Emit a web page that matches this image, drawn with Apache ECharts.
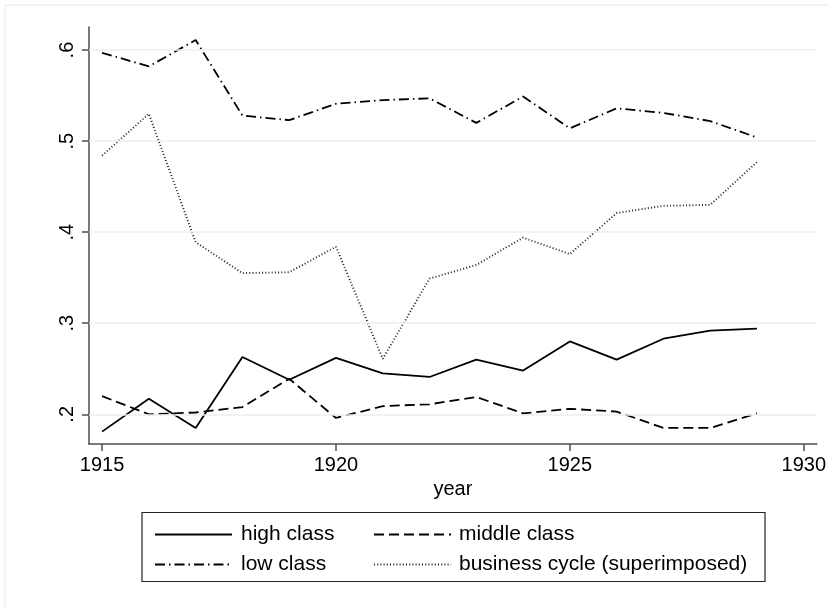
<!DOCTYPE html>
<html>
<head>
<meta charset="utf-8">
<script src="https://cdn.jsdelivr.net/npm/echarts@6/dist/echarts.min.js"></script>
<style>
html,body{margin:0;padding:0;background:#fff;}
#chart{width:829px;height:608px;}
</style>
</head>
<body>
<div id="chart"></div>
<script>
const years = [1915,1916,1917,1918,1919,1920,1921,1922,1923,1924,1925,1926,1927,1928,1929];
const highClass   = [0.181,0.217,0.185,0.263,0.238,0.262,0.245,0.241,0.260,0.248,0.280,0.260,0.283,0.292,0.294];
const middleClass = [0.220,0.200,0.202,0.208,0.239,0.196,0.209,0.211,0.219,0.201,0.206,0.203,0.185,0.185,0.201];
const lowClass    = [0.597,0.582,0.611,0.528,0.523,0.541,0.545,0.547,0.520,0.549,0.514,0.536,0.531,0.522,0.504];
const businessCycle = [0.484,0.530,0.389,0.355,0.356,0.384,0.261,0.349,0.364,0.394,0.376,0.421,0.429,0.430,0.477];
const yTicks = [0.2,0.3,0.4,0.5,0.6];
const xTicks = [1915,1920,1925,1930];
const seriesNames = ['high class','middle class','low class','business cycle (superimposed)'];

const pair = arr => years.map((y,i)=>[y,arr[i]]);
const font = 'Liberation Sans, Arial, Helvetica, sans-serif';
const axisCol = '#4d4d4d';

const chart = echarts.init(document.getElementById('chart'), null, {renderer:'canvas'});
chart.setOption({
  animation:false,
  backgroundColor:'#ffffff',
  textStyle:{fontFamily:font},
  grid:{left:89,right:12,top:27,bottom:164,containLabel:false},
  xAxis:{
    type:'value',min:1914.72,max:1930.28,
    name:'year',nameLocation:'middle',nameGap:30,
    nameTextStyle:{fontSize:20,color:'#000',fontFamily:font},
    axisLine:{show:true,lineStyle:{color:axisCol,width:1.5}},
    axisTick:{show:true,length:7,customValues:xTicks,lineStyle:{color:axisCol,width:1.5}},
    axisLabel:{customValues:xTicks,fontSize:20,color:'#000',margin:11,fontFamily:font,formatter:v=>String(Math.round(v))},
    splitLine:{show:false}
  },
  yAxis:{
    type:'value',min:0.1674,max:0.6253,
    axisLine:{show:true,lineStyle:{color:axisCol,width:1.5}},
    axisTick:{show:true,length:7,customValues:yTicks,lineStyle:{color:axisCol,width:1.5}},
    axisLabel:{customValues:yTicks,fontSize:20,color:'#000',margin:12,rotate:90,fontFamily:font,formatter:v=>'.'+Math.round(v*10)},
    splitLine:{show:false}
  },
  legend:[
    {data:[seriesNames[0],seriesNames[2]],orient:'vertical',left:149,top:519,itemWidth:77,itemHeight:14,itemGap:9,
     itemStyle:{opacity:0},
     textStyle:{fontSize:21,color:'#000',lineHeight:20,padding:[0,0,0,4],fontFamily:font},selectedMode:false},
    {data:[seriesNames[1],seriesNames[3]],orient:'vertical',left:368,top:519,itemWidth:77,itemHeight:14,itemGap:9,
     itemStyle:{opacity:0},
     textStyle:{fontSize:21,color:'#000',lineHeight:20,padding:[0,0,0,3],fontFamily:font},selectedMode:false}
  ],
  graphic:[
    {type:'rect',shape:{x:5,y:5,width:840,height:620},style:{fill:'none',stroke:'#eef2f3',lineWidth:1.5},silent:true,z:-10},
    {type:'rect',shape:{x:142,y:512.5,width:623,height:69},style:{fill:'none',stroke:'#222',lineWidth:1.2},silent:true}
  ],
  series:[
    {name:'grid',type:'line',data:[],symbol:'none',z:1,silent:true,
     markLine:{silent:true,symbol:['none','none'],label:{show:false},animation:false,
       lineStyle:{color:'#e8f0f2',width:1.5,type:'solid'},
       data:yTicks.map(v=>({yAxis:v}))}},
    {name:seriesNames[0],type:'line',data:pair(highClass),symbol:'none',z:3,
     lineStyle:{color:'#000',width:1.8,type:'solid'},itemStyle:{color:'#000'}},
    {name:seriesNames[1],type:'line',data:pair(middleClass),symbol:'none',z:3,
     lineStyle:{color:'#000',width:1.8,type:[10,5]},itemStyle:{color:'#000'}},
    {name:seriesNames[2],type:'line',data:pair(lowClass),symbol:'none',z:3,
     lineStyle:{color:'#000',width:1.8,type:[10,4,1.5,4]},itemStyle:{color:'#000'}},
    {name:seriesNames[3],type:'line',data:pair(businessCycle),symbol:'none',z:3,
     lineStyle:{color:'#222',width:1.9,type:[1,2.2]},itemStyle:{color:'#222'}}
  ]
});
</script>
</body>
</html>
